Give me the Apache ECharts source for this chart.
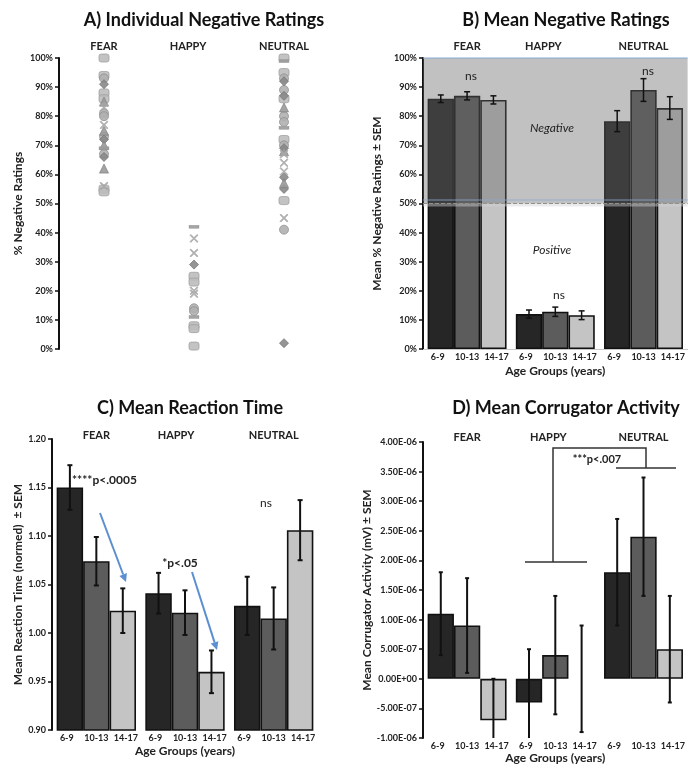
<!DOCTYPE html>
<html><head><meta charset="utf-8">
<script src="https://cdn.jsdelivr.net/npm/echarts@6/dist/echarts.min.js"></script>
<style>html,body{margin:0;padding:0;background:#fff}#c{width:688px;height:771px}</style>
</head><body><div id="c"></div>
<script>
// ---------------- DATA ----------------
const emotions = ['FEAR', 'HAPPY', 'NEUTRAL'];
const ageGroups = ['6-9', '10-13', '14-17'];
const ageTickLabels = ['6-9', '10-13', '14-17', '6-9', '10-13', '14-17', '6-9', '10-13', '14-17'];

// A) individual % negative ratings, grouped by marker shape: [emotion, %]
const aSquares = [['FEAR',100],['FEAR',94],['FEAR',88],['FEAR',86],['FEAR',55],['FEAR',54],
  ['HAPPY',25],['HAPPY',23],['HAPPY',8],['HAPPY',7],['HAPPY',1],
  ['NEUTRAL',100],['NEUTRAL',95],['NEUTRAL',86],['NEUTRAL',72],['NEUTRAL',51]];
const aCircles = [['FEAR',93],['FEAR',81],['FEAR',80],['FEAR',73],['FEAR',67],
  ['HAPPY',14],['HAPPY',13],
  ['NEUTRAL',93],['NEUTRAL',89],['NEUTRAL',80],['NEUTRAL',78],['NEUTRAL',70],['NEUTRAL',41]];
const aDiamonds = [['FEAR',91],['FEAR',72],['FEAR',66],['HAPPY',29],
  ['NEUTRAL',92],['NEUTRAL',87],['NEUTRAL',69],['NEUTRAL',59],['NEUTRAL',55],['NEUTRAL',2]];
const aTriangles = [['FEAR',85],['FEAR',75],['FEAR',70],['FEAR',62],
  ['NEUTRAL',83],['NEUTRAL',68],['NEUTRAL',57]];
const aCrosses = [['FEAR',83],['FEAR',77],['FEAR',56],
  ['HAPPY',38],['HAPPY',33],['HAPPY',20],['HAPPY',19],
  ['NEUTRAL',67],['NEUTRAL',64],['NEUTRAL',61],['NEUTRAL',45]];
const aDashes = [['FEAR',69],['HAPPY',42],['HAPPY',11],['NEUTRAL',99],['NEUTRAL',76]];

// B) mean % negative ratings [age group][emotion] and SEM
const negMean = [[86, 12, 78.3], [87, 12.8, 89], [85.6, 11.6, 82.8]];
const negSem  = [[1.3, 1.4, 3.6], [1.4, 1.6, 3.9], [1.4, 1.5, 3.9]];
const negZone = [50, 100];       // shaded "Negative" region
const zoneLines = [51.2, 50, 49]; // blue line, dashed line, bottom of light band

// C) mean reaction time (normed) [age group][emotion] and SEM
const rtMean = [[1.150, 1.041, 1.028], [1.074, 1.021, 1.015], [1.023, 0.960, 1.106]];
const rtSem  = [[0.023, 0.021, 0.030], [0.025, 0.023, 0.032], [0.023, 0.022, 0.031]];

// D) mean corrugator activity (mV) [age group][emotion] and SEM
const corMean = [[1.1e-6, -0.4e-6, 1.8e-6], [0.9e-6, 0.4e-6, 2.4e-6], [-0.7e-6, 0, 0.5e-6]];
const corSem  = [[0.7e-6, 0.9e-6, 0.9e-6], [0.8e-6, 1.0e-6, 1.0e-6], [0.7e-6, 0.9e-6, 0.9e-6]];

// ---------------- STYLE / LAYOUT ----------------
const FONT = 'Lato, "Open Sans", sans-serif';
const barColors = ['#262626', '#5c5c5c', '#c4c4c4'];
const GAP = 0.105;
const TXT = '#222';

const grids = [
  {left: 59, top: 58, width: 270, height: 291},
  {left: 423, top: 58, width: 265, height: 291},
  {left: 52, top: 439, width: 266, height: 291},
  {left: 423, top: 442, width: 265, height: 296}
];

function sci(v) {
  if (Math.abs(v) < 1e-12) return '0.00E+00';
  const s = v.toExponential(2).split('e');
  const sign = s[1][0] === '-' ? '-' : '+';
  let d = s[1].replace(/[+-]/, '');
  if (d.length < 2) d = '0' + d;
  return s[0] + 'E' + sign + d;
}

function topAxis(g, happyShift, margin) {
  return {
    type: 'category', gridIndex: g, data: emotions, position: 'top',
    axisLine: {show: false, onZero: false}, axisTick: {show: false},
    axisLabel: {margin: margin, fontFamily: FONT, fontWeight: 'bold', fontSize: 11, color: TXT,
      formatter: v => v === 'HAPPY' ? '{h|' + v + '}' : v,
      rich: {h: {fontFamily: FONT, fontWeight: 'bold', fontSize: 11, color: TXT,
        padding: [0, happyShift * 2, 0, 0]}}}
  };
}
function bottomAxis(g, lineShow, nameGap) {
  return {
    type: 'category', gridIndex: g, data: ageTickLabels, position: 'bottom',
    axisLine: {show: lineShow, onZero: false, lineStyle: {color: '#c8c8c8', width: 1}},
    axisTick: {show: false},
    axisLabel: {margin: 4, fontFamily: FONT, fontWeight: 'bold', fontSize: 9, color: TXT, interval: 0},
    name: 'Age Groups (years)', nameLocation: 'middle', nameGap: nameGap,
    nameTextStyle: {fontFamily: FONT, fontWeight: 'bold', fontSize: 12, color: TXT}
  };
}
function valAxis(g, min, max, interval, fmt, name, nameGap) {
  return {
    type: 'value', gridIndex: g, min, max, interval,
    axisLine: {show: true, lineStyle: {color: '#111', width: 2}},
    axisTick: {show: true, length: 4, lineStyle: {color: '#111', width: 1.5}},
    splitLine: {show: false},
    axisLabel: {margin: 6, fontFamily: FONT, fontWeight: 'bold', fontSize: 9, color: TXT, formatter: fmt},
    name, nameLocation: 'middle', nameGap,
    nameTextStyle: {fontFamily: FONT, fontWeight: 'bold', fontSize: 12, color: TXT}
  };
}

function barSeries(xIdx, yIdx, means) {
  return means.map((arr, j) => ({
    type: 'bar', name: ageGroups[j], xAxisIndex: xIdx, yAxisIndex: yIdx,
    barGap: '0%', barCategoryGap: (GAP * 100) + '%', z: 2,
    itemStyle: {color: barColors[j], borderColor: '#111', borderWidth: 1.6},
    data: arr.map(v => v === 0 ? {value: v, itemStyle: {borderWidth: 0}} : v)
  }));
}
function errSeries(xIdx, yIdx, means, sems, capW, lw, yMin) {
  const data = [];
  means.forEach((arr, j) => arr.forEach((m, i) => data.push([i, j, m - sems[j][i], m + sems[j][i]])));
  return {
    type: 'custom', xAxisIndex: xIdx, yAxisIndex: yIdx, z: 5, silent: true,
    encode: {x: 0, y: 3}, data,
    renderItem(params, api) {
      const cat = api.value(0), j = api.value(1);
      let lo = api.value(2), hi = api.value(3);
      let clipped = false;
      if (lo < yMin) { lo = yMin; clipped = true; }
      const band = api.size([1, 0])[0];
      const bw = band * (1 - GAP) / 3;
      const pHi = api.coord([cat, hi]), pLo = api.coord([cat, lo]);
      const x = pHi[0] + (j - 1) * bw;
      const st = {stroke: '#111', lineWidth: lw};
      const ch = [{type: 'line', shape: {x1: x, y1: pHi[1], x2: x, y2: pLo[1]}, style: st},
                  {type: 'line', shape: {x1: x - capW / 2, y1: pHi[1], x2: x + capW / 2, y2: pHi[1]}, style: st}];
      if (!clipped) ch.push({type: 'line', shape: {x1: x - capW / 2, y1: pLo[1], x2: x + capW / 2, y2: pLo[1]}, style: st});
      return {type: 'group', children: ch};
    }
  };
}

// scatter series for panel A
function scat(data, symbol, size, color, border) {
  return {type: 'scatter', xAxisIndex: 0, yAxisIndex: 0, data, symbol, symbolSize: size,
    itemStyle: {color, borderColor: border, borderWidth: 0.8, opacity: 0.9}, z: 3};
}
const crossPath = 'path://M0,1L1,0L5,4L9,0L10,1L6,5L10,9L9,10L5,6L1,10L0,9L4,5Z';

// B shaded region
const zoneSeries = {
  type: 'custom', xAxisIndex: 1, yAxisIndex: 1, z: 3, silent: true,
  encode: {x: 0, y: 1}, data: [[0, negZone[0], negZone[1]]],
  renderItem(params, api) {
    const cs = params.coordSys;
    const yTop = api.coord([0, api.value(2)])[1];
    const yBot = api.coord([0, api.value(1)])[1];
    const yBlue = api.coord([0, zoneLines[0]])[1];
    const yDash = api.coord([0, zoneLines[1]])[1];
    const yBand = api.coord([0, zoneLines[2]])[1];
    const x1 = cs.x, x2 = cs.x + cs.width;
    return {type: 'group', children: [
      {type: 'rect', shape: {x: x1, y: yTop, width: cs.width, height: yBot - yTop}, style: {fill: 'rgba(100,100,100,0.4)'}},
      {type: 'rect', shape: {x: x1, y: yDash, width: cs.width, height: yBand - yDash}, style: {fill: 'rgba(210,210,210,0.45)'}},
      {type: 'line', shape: {x1, y1: yTop, x2, y2: yTop}, style: {stroke: '#8aaad2', lineWidth: 1}},
      {type: 'line', shape: {x1, y1: yBlue, x2, y2: yBlue}, style: {stroke: '#8aaad2', lineWidth: 0.8}},
      {type: 'line', shape: {x1, y1: yDash, x2, y2: yDash}, style: {stroke: '#909090', lineWidth: 1.2, lineDash: [4, 2]}}
    ]};
  }
};

function arrow(x1, y1, x2, y2, color) {
  const dx = x2 - x1, dy = y2 - y1, L = Math.hypot(dx, dy), ux = dx / L, uy = dy / L;
  const hl = 8, hw = 4;
  const bx = x2 - ux * hl, by = y2 - uy * hl;
  return [
    {type: 'line', shape: {x1, y1, x2: bx, y2: by}, style: {stroke: color, lineWidth: 2}, z: 10},
    {type: 'polygon', shape: {points: [[x2, y2], [bx - uy * hw, by + ux * hw], [bx + uy * hw, by - ux * hw]]}, style: {fill: color}, z: 10}
  ];
}
function txt(x, y, text, size, weight, style, align) {
  return {type: 'text', x, y, z: 10, style: {text, fontFamily: FONT, fontSize: size, fontWeight: weight || 'normal',
    fontStyle: style || 'normal', fill: TXT, align: align || 'center', verticalAlign: 'middle'}};
}

const titleStyle = {fontFamily: FONT, fontWeight: 'bold', fontSize: 18, color: '#111'};

const option = {
  animation: false,
  backgroundColor: '#fff',
  title: [
    {text: 'A) Individual Negative Ratings', left: 199, top: 6, textAlign: 'center', textStyle: titleStyle},
    {text: 'B) Mean Negative Ratings', left: 561, top: 6, textAlign: 'center', textStyle: titleStyle},
    {text: 'C) Mean Reaction Time', left: 185, top: 394, textAlign: 'center', textStyle: titleStyle},
    {text: 'D) Mean Corrugator Activity', left: 561, top: 394, textAlign: 'center', textStyle: titleStyle}
  ],
  grid: grids,
  xAxis: [
    topAxis(0, 6, 6),
    topAxis(1, 12, 6),
    topAxis(2, 9, -2),
    topAxis(3, 7, -1),
    bottomAxis(1, true, 16),
    bottomAxis(2, false, 15),
    bottomAxis(3, false, 14)
  ],
  yAxis: [
    valAxis(0, 0, 100, 10, '{value}%', '% Negative Ratings', 35),
    valAxis(1, 0, 100, 10, '{value}%', 'Mean % Negative Ratings ± SEM', 40),
    valAxis(2, 0.9, 1.2, 0.05, v => v.toFixed(2), 'Mean Reaction Time (normed)  ± SEM', 27),
    valAxis(3, -1e-6, 4e-6, 5e-7, sci, 'Mean Corrugator Activity (mV) ± SEM', 50)
  ],
  series: [
    scat(aSquares, 'roundRect', [10, 8], '#bdbdbd', '#9a9a9a'),
    scat(aCircles, 'circle', 9, '#b0b0b0', '#8c8c8c'),
    scat(aDiamonds, 'diamond', 9, '#8a8a8a', '#707070'),
    scat(aTriangles, 'triangle', 9, '#9a9a9a', '#808080'),
    scat(aCrosses, crossPath, 8, '#a8a8a8', '#a8a8a8'),
    scat(aDashes, 'rect', [9, 3], '#9a9a9a', '#9a9a9a'),
    ...barSeries(1, 1, negMean),
    zoneSeries,
    errSeries(1, 1, negMean, negSem, 6, 1.5, 0),
    ...barSeries(2, 2, rtMean),
    errSeries(2, 2, rtMean, rtSem, 5, 2, 0.9),
    ...barSeries(3, 3, corMean),
    errSeries(3, 3, corMean, corSem, 4, 2, -1e-6)
  ],
  graphic: [
    txt(552, 128, 'Negative', 12, 'normal', 'italic'),
    txt(552, 250, 'Positive', 12, 'normal', 'italic'),
    txt(471, 76, 'ns', 12),
    txt(648, 71, 'ns', 12),
    txt(559, 295, 'ns', 12),
    txt(72, 480, '****p<.0005', 12, 'bold', 'normal', 'left'),
    txt(180, 563, '*p<.05', 12, 'bold'),
    txt(266, 503, 'ns', 12),
    ...arrow(100, 513, 126, 582, '#5b8fd0'),
    ...arrow(192, 572, 217, 650, '#5b8fd0'),
    {type: 'polyline', z: 10, shape: {points: [[525, 562], [587, 562]]}, style: {stroke: '#333', lineWidth: 1.5, fill: null}},
    {type: 'polyline', z: 10, shape: {points: [[553, 562], [553, 448], [646, 448], [646, 468]]}, style: {stroke: '#333', lineWidth: 1.5, fill: null}},
    {type: 'polyline', z: 10, shape: {points: [[616, 468], [676, 468]]}, style: {stroke: '#333', lineWidth: 1.5, fill: null}},
    txt(597, 459, '***p<.007', 11, 'bold')
  ]
};

const chart = echarts.init(document.getElementById('c'), null, {renderer: 'canvas'});
chart.setOption(option);
</script>
</body></html>
